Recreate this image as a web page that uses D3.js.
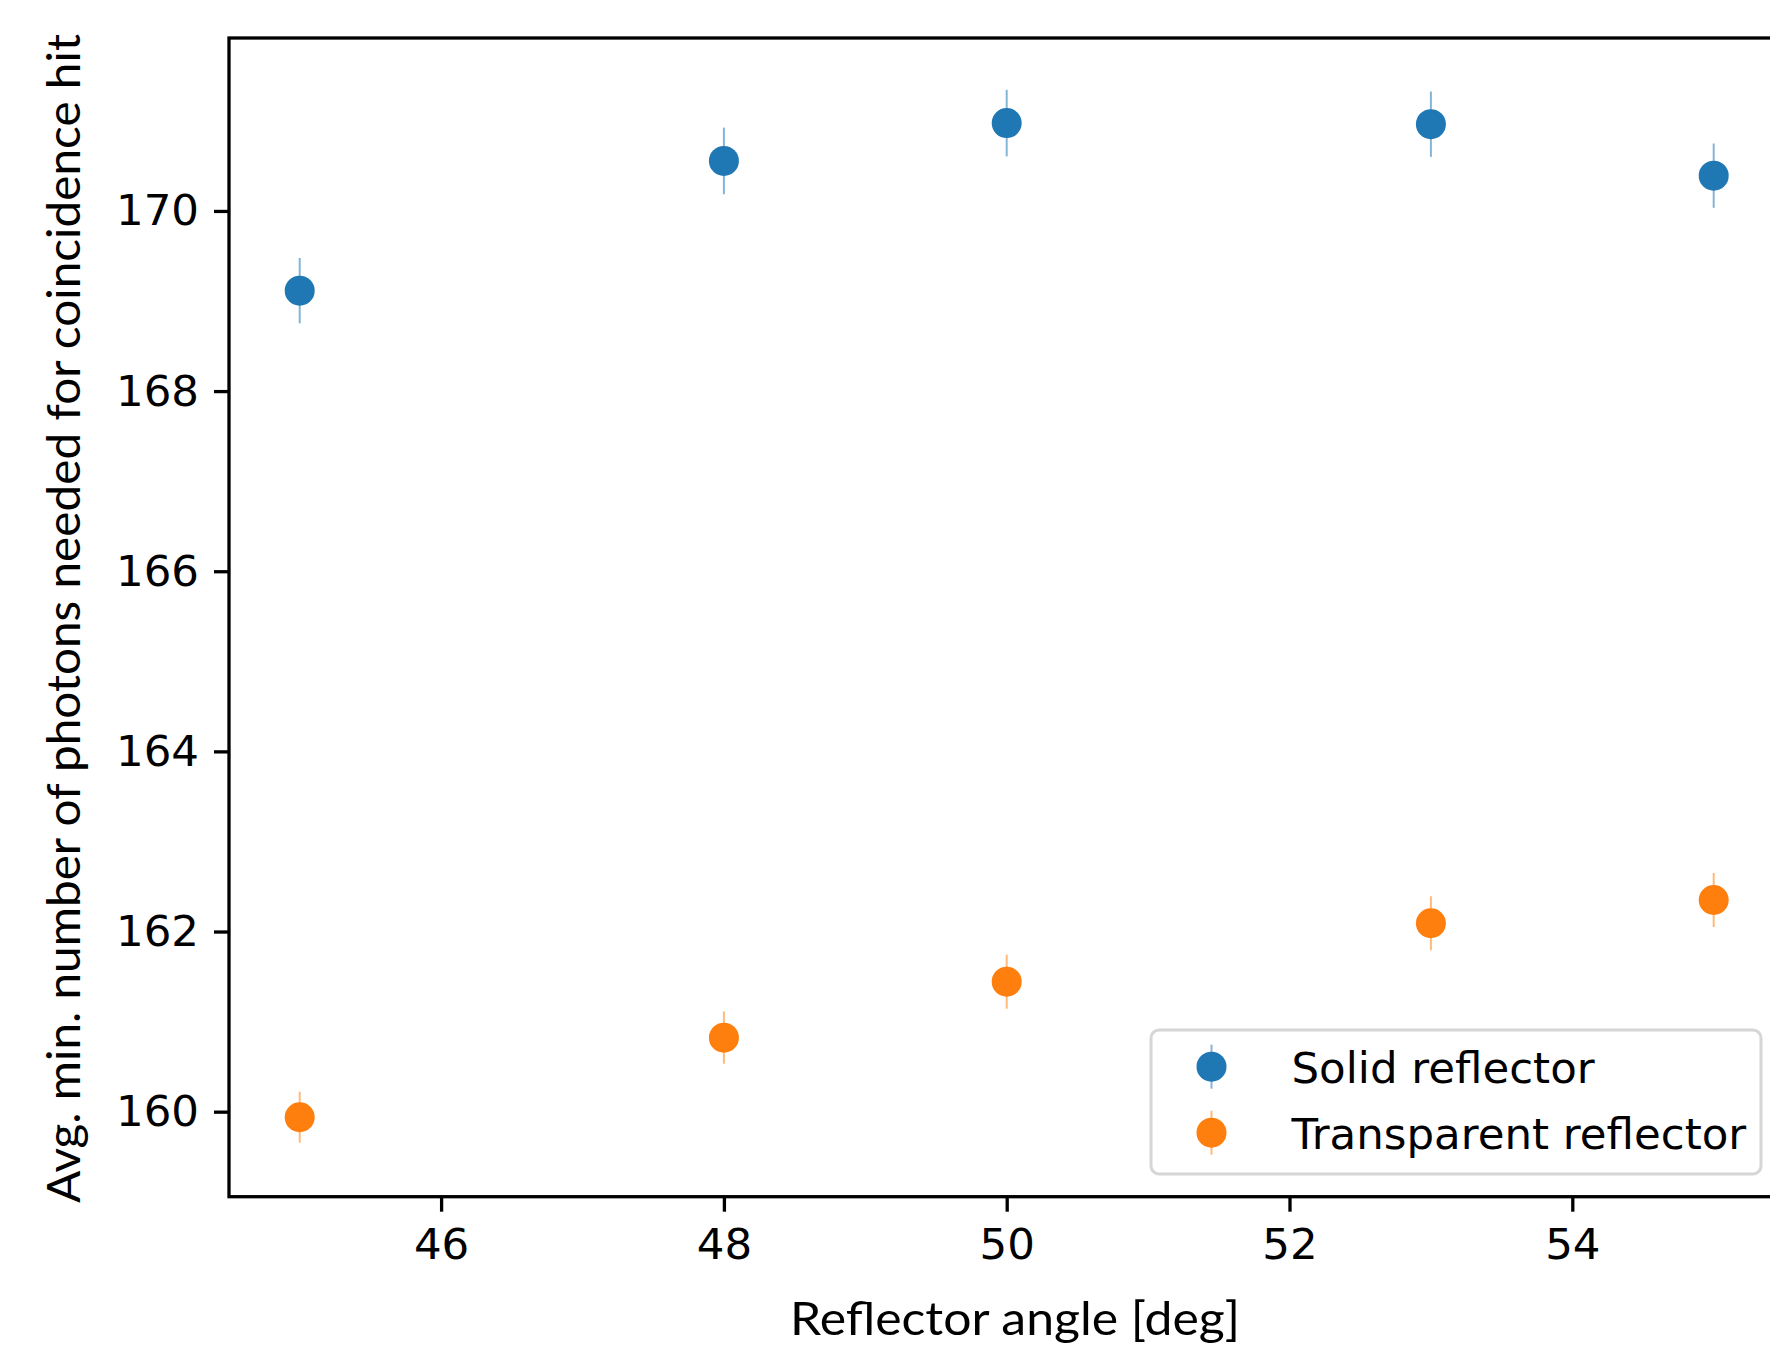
<!DOCTYPE html>
<html>
<head>
<meta charset="utf-8">
<script src="https://cdn.jsdelivr.net/npm/d3@7"></script>
<style>
  html, body { margin: 0; padding: 0; background: #fff; overflow: hidden; }
  svg { display: block; }
  .tick text { font-family: "DejaVu Sans", sans-serif; }
</style>
</head>
<body>
<div id="chart"></div>
<script>
// Reflector angles (deg)
var angles = [45, 48, 50, 53, 55];

// Solid reflector: mean and error
var solidValues = [169.115, 170.555, 170.975, 170.963, 170.392];
var solidErrors = [0.363, 0.37, 0.37, 0.363, 0.357];

// Transparent reflector: mean and error
var transparentValues = [159.938, 160.822, 161.443, 162.092, 162.35];
var transparentErrors = [0.283, 0.29, 0.3, 0.3, 0.3];

var xTicks = [46, 48, 50, 52, 54];
var yTicks = [160, 162, 164, 166, 168, 170];

var seriesNames = ["Solid reflector", "Transparent reflector"];
var seriesColors = ["#1f77b4", "#ff7f0e"];

var series = [
	{name: seriesNames[0], color: seriesColors[0], values: solidValues, errors: solidErrors},
	{name: seriesNames[1], color: seriesColors[1], values: transparentValues, errors: transparentErrors}
];

var W = 1770, H = 1351;
var margin = {top: 38, left: 229, bottom: H - 1196.7};
var plotRight = 1784.4; // right spine falls just outside the picture

var svg = d3.select("#chart")
	.append("svg")
	.attr("width", W)
	.attr("height", H);

var x = d3.scaleLinear()
	.domain([44.5, 55.5])
	.range([margin.left, plotRight]);

var y = d3.scaleLinear()
	.domain([159.056, 171.92])
	.range([H - margin.bottom, margin.top]);

// error bars + markers
series.forEach(function(s) {
	var g = svg.append("g");
	var pts = angles.map(function(a, i) { return {a: a, v: s.values[i], e: s.errors[i]}; });

	g.selectAll("line.err")
		.data(pts)
		.enter()
		.append("line")
		.attr("class", "err")
		.attr("x1", function(d) { return x(d.a); })
		.attr("x2", function(d) { return x(d.a); })
		.attr("y1", function(d) { return y(d.v - d.e); })
		.attr("y2", function(d) { return y(d.v + d.e); })
		.attr("stroke", s.color)
		.attr("stroke-opacity", 0.55)
		.attr("stroke-width", 2);

	g.selectAll("circle")
		.data(pts)
		.enter()
		.append("circle")
		.attr("cx", function(d) { return x(d.a); })
		.attr("cy", function(d) { return y(d.v); })
		.attr("r", 15)
		.attr("fill", s.color);
});

// axes
var xAxis = svg.append("g")
	.attr("transform", "translate(0," + (H - margin.bottom) + ")")
	.call(d3.axisBottom(x).tickValues(xTicks).tickSize(15).tickPadding(16));

var yAxis = svg.append("g")
	.attr("transform", "translate(" + margin.left + ",0)")
	.call(d3.axisLeft(y).tickValues(yTicks).tickSize(15).tickPadding(15));

[xAxis, yAxis].forEach(function(ax) {
	ax.select(".domain").remove();
	ax.selectAll(".tick line").attr("stroke", "#000").attr("stroke-width", 3.3);
	ax.selectAll(".tick text").attr("fill", "#000").attr("font-size", 43.5);
});

// spines (box)
svg.append("rect")
	.attr("x", margin.left)
	.attr("y", margin.top)
	.attr("width", plotRight - margin.left)
	.attr("height", H - margin.bottom - margin.top)
	.attr("fill", "none")
	.attr("stroke", "#000")
	.attr("stroke-width", 3.3);

// axis labels
svg.append("text")
	.attr("x", 1015)
	.attr("y", 1335)
	.attr("text-anchor", "middle")
	.attr("font-family", "Lato, sans-serif")
	.attr("font-size", 47)
	.attr("textLength", 450)
	.attr("lengthAdjust", "spacingAndGlyphs")
	.text("Reflector angle [deg]");

svg.append("text")
	.attr("transform", "translate(80," + 618.5 + ") rotate(-90)")
	.attr("text-anchor", "middle")
	.attr("font-family", "Lato, sans-serif")
	.attr("font-size", 47)
	.attr("textLength", 1169)
	.attr("lengthAdjust", "spacingAndGlyphs")
	.text("Avg. min. number of photons needed for coincidence hit");

// legend
var legend = svg.append("g");
legend.append("rect")
	.attr("x", 1151)
	.attr("y", 1030)
	.attr("width", 610)
	.attr("height", 144)
	.attr("rx", 8)
	.attr("fill", "#fff")
	.attr("fill-opacity", 0.8)
	.attr("stroke", "#d6d6d6")
	.attr("stroke-width", 3);

series.forEach(function(s, i) {
	var cy = 1066.7 + i * 66;
	legend.append("line")
		.attr("x1", 1211.5).attr("x2", 1211.5)
		.attr("y1", cy - 22).attr("y2", cy + 22)
		.attr("stroke", s.color)
		.attr("stroke-opacity", 0.55)
		.attr("stroke-width", 2);
	legend.append("circle")
		.attr("cx", 1211.5)
		.attr("cy", cy)
		.attr("r", 15)
		.attr("fill", s.color);
	legend.append("text")
		.attr("x", 1291.5)
		.attr("y", cy + 16.5)
		.attr("font-family", "DejaVu Sans, sans-serif")
		.attr("font-size", 43.5)
		.text(s.name);
});
</script>
</body>
</html>
